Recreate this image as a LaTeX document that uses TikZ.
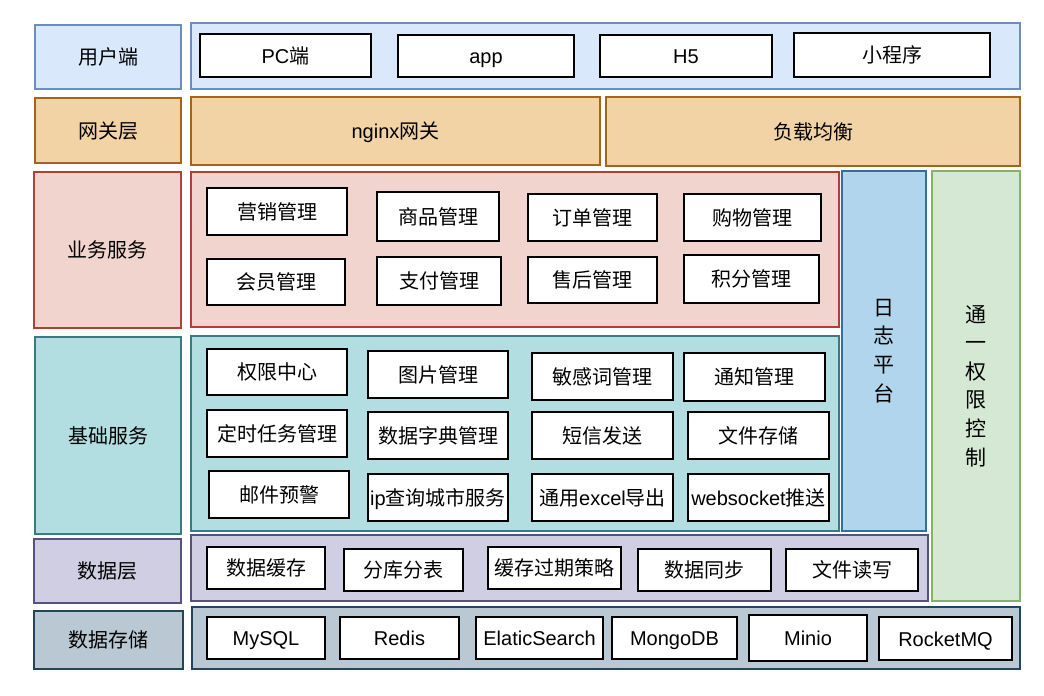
\documentclass[tikz,border=0pt]{standalone}
\usepackage{fontspec}
\setmainfont{Noto Sans CJK SC}
\newfontfamily\lat{Liberation Sans}
\definecolor{uF}{HTML}{DAE8FC}\definecolor{uD}{HTML}{6C8EBF}
\definecolor{gF}{HTML}{F2D3A5}\definecolor{gD}{HTML}{A4641E}
\definecolor{bF}{HTML}{F2D4CF}\definecolor{bD}{HTML}{AE4132}
\definecolor{jF}{HTML}{B2DEE1}\definecolor{jD}{HTML}{3A7A80}
\definecolor{dF}{HTML}{D0CEE2}\definecolor{dD}{HTML}{56517E}
\definecolor{sF}{HTML}{BAC8D3}\definecolor{sD}{HTML}{23445D}
\definecolor{rF}{HTML}{B1D5EC}\definecolor{rD}{HTML}{336F9B}
\definecolor{pF}{HTML}{D5E8D4}\definecolor{pD}{HTML}{82B366}
\tikzset{
  base/.style={draw, line width=1.5pt, inner sep=0pt, font=\fontsize{20}{24}\selectfont},
  txt/.style={base, text height=17.6pt, text depth=2.4pt},
  item/.style={txt, fill=white, draw=black},
  uL/.style={txt, fill=uF, draw=uD}, gL/.style={txt, fill=gF, draw=gD},
  bL/.style={txt, fill=bF, draw=bD}, jL/.style={txt, fill=jF, draw=jD},
  dL/.style={txt, fill=dF, draw=dD}, sL/.style={txt, fill=sF, draw=sD},
  vert/.style={base, align=center, font=\fontsize{21}{28.6}\selectfont},
}
\newcommand\bx[7]{\node[#6, minimum width={#4pt-#2pt}, minimum height={#5pt-#3pt}] (#1) at ({(#2+#4)/2},{-(#3+#5)/2}) {#7};}
\begin{document}
\begin{tikzpicture}[x=1pt,y=1pt]
\useasboundingbox (0,0) rectangle (1044,-696);
% user layer
\bx{L1}{35}{25}{181}{89}{uL}{用户端}
\bx{C1}{191}{23}{1020}{89}{uL}{}
\bx{pc}{200}{34}{371}{77}{item}{{\lat PC}端}
\bx{app}{398}{35}{574}{77}{item}{{\lat app}}
\bx{h5}{600}{35}{772}{77}{item}{{\lat H5}}
\bx{xcx}{794}{33}{990}{77}{item}{小程序}
% gateway
\bx{L2}{35}{98}{181}{163}{gL}{网关层}
\bx{ngx}{191}{97}{600}{165}{gL}{{\lat nginx}网关}
\bx{lb}{606}{97}{1020}{166}{gL}{负载均衡}
% side columns
\bx{log}{842}{171}{926}{531}{vert, fill=rF, draw=rD}{日\\志\\平\\台}
\bx{perm}{932}{171}{1020}{601}{vert, fill=pF, draw=pD}{通\\一\\权\\限\\控\\制}
% business
\bx{L3}{34}{172}{181}{328}{bL}{业务服务}
\bx{C3}{191}{172}{839}{327}{bL}{}
\bx{b1}{207}{188}{347}{235}{item}{营销管理}
\bx{b2}{377}{192}{499}{241}{item}{商品管理}
\bx{b3}{528}{194}{657}{241}{item}{订单管理}
\bx{b4}{684}{194}{821}{241}{item}{购物管理}
\bx{b5}{207}{259}{345}{305}{item}{会员管理}
\bx{b6}{377}{257}{501}{305}{item}{支付管理}
\bx{b7}{528}{257}{657}{303}{item}{售后管理}
\bx{b8}{684}{255}{819}{303}{item}{积分管理}
% base services
\bx{L4}{35}{337}{181}{534}{jL}{基础服务}
\bx{C4}{191}{336}{839}{531}{jL}{}
\bx{j1}{207}{349}{347}{395}{item}{权限中心}
\bx{j2}{368}{351}{508}{398}{item}{图片管理}
\bx{j3}{532}{353}{673}{400}{item}{敏感词管理}
\bx{j4}{684}{353}{825}{401}{item}{通知管理}
\bx{j5}{207}{410}{347}{457}{item}{定时任务管理}
\bx{j6}{368}{412}{508}{459}{item}{数据字典管理}
\bx{j7}{532}{412}{673}{459}{item}{短信发送}
\bx{j8}{688}{412}{829}{459}{item}{文件存储}
\bx{j9}{209}{471}{349}{518}{item}{邮件预警}
\bx{j10}{368}{474}{508}{521}{item}{{\lat ip}查询城市服务}
\bx{j11}{532}{474}{673}{521}{item}{通用{\lat excel}导出}
\bx{j12}{688}{474}{829}{521}{item}{{\lat websocket}推送}
% data layer
\bx{L5}{34}{539}{181}{603}{dL}{数据层}
\bx{C5}{191}{535}{928}{601}{dL}{}
\bx{d1}{207}{547}{325}{589}{item}{数据缓存}
\bx{d2}{344}{549}{463}{591}{item}{分库分表}
\bx{d3}{488}{547}{621}{589}{item}{缓存过期策略}
\bx{d4}{638}{549}{771}{591}{item}{数据同步}
\bx{d5}{786}{549}{918}{591}{item}{文件读写}
% storage
\bx{L6}{34}{611}{183}{669}{sL}{数据存储}
\bx{C6}{192}{607}{1020}{669}{sL}{}
\bx{s1}{207}{617}{325}{659}{item}{{\lat MySQL}}
\bx{s2}{340}{617}{459}{659}{item}{{\lat Redis}}
\bx{s3}{476}{617}{603}{659}{item}{{\lat ElaticSearch}}
\bx{s4}{612}{617}{737}{659}{item}{{\lat MongoDB}}
\bx{s5}{749}{615}{867}{661}{item}{{\lat Minio}}
\bx{s6}{879}{617}{1012}{660}{item}{{\lat RocketMQ}}
\end{tikzpicture}
\end{document}
